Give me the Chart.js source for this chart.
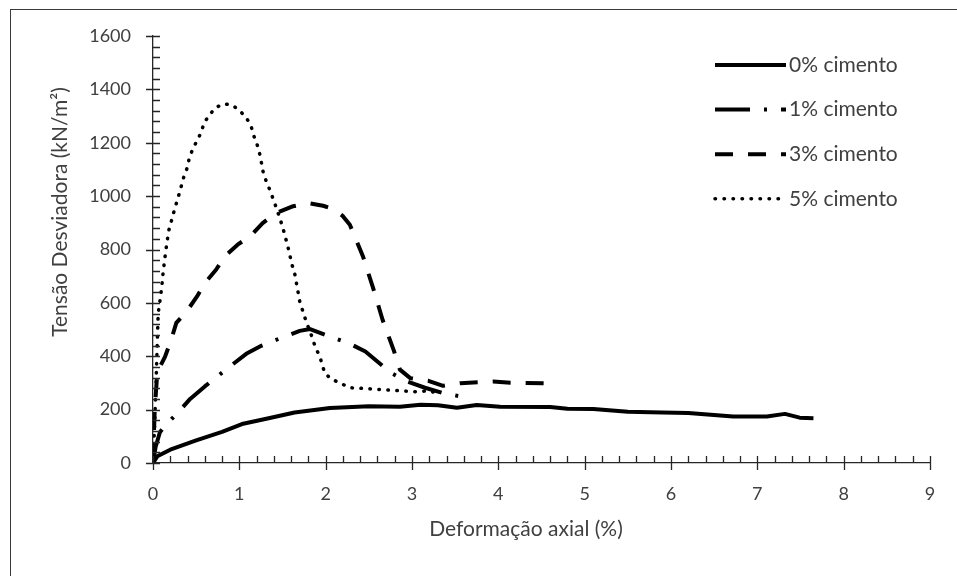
<!DOCTYPE html>
<html>
<head>
<meta charset="utf-8">
<script src="https://cdn.jsdelivr.net/npm/chart.js@4.4.0/dist/chart.umd.min.js"></script>
<style>
  html, body { margin: 0; padding: 0; background: #fff; }
</style>
</head>
<body>
<canvas id="chart" width="957" height="576"></canvas>
<script>
// Values
const seriesLabels = ['0% cimento', '1% cimento', '3% cimento', '5% cimento'];

const strain0 = [0, 0.05, 0.2, 0.5, 0.8, 1.03, 1.3, 1.64, 2.05, 2.5, 2.86, 3.1, 3.3, 3.52, 3.75, 4.02, 4.6, 4.8, 5.1, 5.5, 5.9, 6.2, 6.72, 7.11, 7.32, 7.49, 7.65];
const stress0 = [0, 25, 50, 85, 117, 146, 165, 189, 206, 213, 211, 218, 216, 207, 217, 211, 210, 203, 202, 192, 189, 187, 174, 174, 184, 170, 168];

const strain1 = [0, 0.03, 0.08, 0.14, 0.28, 0.43, 0.6, 0.9, 1.08, 1.26, 1.47, 1.7, 1.82, 2.05, 2.26, 2.46, 2.76, 2.95, 3.15, 3.36, 3.67];
const stress1 = [0, 60, 115, 140, 186, 240, 287, 364, 409, 440, 467, 495, 502, 474, 450, 418, 337, 305, 282, 262, 243];

const strain3 = [0, 0.02, 0.05, 0.14, 0.21, 0.27, 0.39, 0.51, 0.6, 0.73, 0.83, 0.98, 1.13, 1.27, 1.42, 1.61, 1.8, 1.97, 2.1, 2.2, 2.28, 2.43, 2.55, 2.66, 2.79, 2.86, 2.98, 3.19, 3.36, 3.56, 3.94, 4.14, 4.54];
const stress3 = [0, 200, 340, 399, 461, 525, 568, 624, 674, 724, 774, 818, 851, 899, 936, 961, 974, 964, 950, 925, 893, 776, 655, 536, 421, 350, 318, 308, 289, 299, 305, 301, 299];

const strain5 = [0, 0.02, 0.04, 0.06, 0.1, 0.12, 0.15, 0.18, 0.21, 0.24, 0.27, 0.3, 0.33, 0.36, 0.4, 0.42, 0.46, 0.51, 0.56, 0.59, 0.65, 0.73, 0.83, 0.93, 1.02, 1.09, 1.14, 1.17, 1.21, 1.24, 1.28, 1.32, 1.36, 1.43, 1.5, 1.56, 1.61, 1.64, 1.7, 1.77, 1.84, 1.88, 1.93, 1.99, 2.07, 2.19, 2.28, 2.4, 2.61, 2.84, 3.05, 3.17, 3.32];
const stress5 = [0, 150, 350, 560, 655, 724, 799, 868, 903, 939, 972, 1005, 1040, 1076, 1109, 1143, 1176, 1208, 1240, 1273, 1303, 1333, 1346, 1339, 1315, 1289, 1258, 1224, 1189, 1153, 1083, 1049, 1018, 955, 886, 814, 743, 712, 605, 534, 474, 434, 401, 336, 314, 296, 282, 280, 276, 271, 267, 270, 262];

const xTickStep = 1, xMinorStep = 0.2, xMax = 9;
const yTickStep = 200, yMinorStep = 40, yMax = 1600;

const xTitle = 'Deformação axial (%)';
const yTitle = 'Tensão Desviadora (kN/m²)';

const textColor = '#404040';
const axisColor = '#262626';
const fontFamily = 'Lato, "Open Sans", sans-serif';

function toPoints(xs, ys) {
  return xs.map((v, i) => ({ x: v, y: ys[i] }));
}

const lineStyles = [
  { dash: [], cap: 'butt' },
  { dash: [35, 14, 3, 14], cap: 'butt' },
  { dash: [18, 15], cap: 'butt' },
  { dash: [0.5, 8.5], cap: 'round' }
];

const seriesData = [
  toPoints(strain0, stress0),
  toPoints(strain1, stress1),
  toPoints(strain3, stress3),
  toPoints(strain5, stress5)
];

const datasets = seriesData.map((pts, i) => ({
  label: seriesLabels[i],
  data: pts,
  showLine: true,
  borderColor: '#000',
  borderWidth: i === 3 ? 3.5 : 4,
  borderDash: lineStyles[i].dash,
  borderCapStyle: lineStyles[i].cap,
  borderJoinStyle: 'round',
  pointRadius: 0,
  tension: 0
}));

// crossing major ticks and inside minor ticks, like the original
const tickMarks = {
  id: 'tickMarks',
  afterDraw(chart) {
    const { ctx, scales: { x, y } } = chart;
    ctx.save();
    ctx.strokeStyle = axisColor;
    ctx.lineWidth = 1.3;
    ctx.beginPath();
    const nx = Math.round(xMax / xMinorStep);
    for (let i = 0; i <= nx; i++) {
      const v = i * xMinorStep;
      const px = Math.round(x.getPixelForValue(v)) + 0.5;
      const major = i % Math.round(xTickStep / xMinorStep) === 0;
      ctx.moveTo(px, y.bottom - 7);
      ctx.lineTo(px, major ? y.bottom + 7 : y.bottom);
    }
    const ny = Math.round(yMax / yMinorStep);
    for (let i = 0; i <= ny; i++) {
      const v = i * yMinorStep;
      const py = Math.round(y.getPixelForValue(v)) + 0.5;
      const major = i % Math.round(yTickStep / yMinorStep) === 0;
      ctx.moveTo(major ? x.left - 7 : x.left, py);
      ctx.lineTo(x.left + 7, py);
    }
    ctx.stroke();
    ctx.restore();
  }
};

// axis titles, legend and outer frame
const decorations = {
  id: 'decorations',
  afterDraw(chart) {
    const { ctx } = chart;
    ctx.save();
    // frame
    ctx.strokeStyle = '#3a3a3a';
    ctx.lineWidth = 1;
    ctx.strokeRect(10.5, 9.5, 1000, 1000);

    ctx.fillStyle = textColor;
    ctx.font = '21px ' + fontFamily;
    ctx.textAlign = 'center';
    ctx.textBaseline = 'middle';
    ctx.fillText(xTitle, 526, 529);

    ctx.save();
    ctx.translate(60, 212);
    ctx.rotate(-Math.PI / 2);
    ctx.fillText(yTitle, 0, 0);
    ctx.restore();

    // legend
    ctx.font = '21px ' + fontFamily;
    ctx.textAlign = 'left';
    chart.data.datasets.forEach((ds, i) => {
      const ly = 65 + i * 44.6;
      ctx.save();
      ctx.strokeStyle = ds.borderColor;
      ctx.lineWidth = ds.borderWidth;
      ctx.setLineDash(ds.borderDash);
      ctx.lineCap = ds.borderCapStyle;
      ctx.beginPath();
      ctx.moveTo(715, ly);
      ctx.lineTo(786, ly);
      ctx.stroke();
      ctx.restore();
      ctx.fillText(ds.label, 789, ly);
    });
    ctx.restore();
  }
};

new Chart(document.getElementById('chart'), {
  type: 'scatter',
  data: { datasets: datasets },
  options: {
    responsive: false,
    animation: false,
    layout: { padding: { top: 36, right: 27, left: 0, bottom: 0 } },
    plugins: {
      legend: { display: false },
      tooltip: { enabled: false }
    },
    scales: {
      x: {
        type: 'linear',
        min: 0,
        max: xMax,
        afterFit: (s) => { s.height = 113; },
        grid: { display: false, drawTicks: false },
        border: { display: true, color: axisColor, width: 1.3 },
        ticks: {
          stepSize: xTickStep,
          color: textColor,
          padding: 20,
          font: { family: fontFamily, size: 18 },
          callback: (v) => String(v)
        }
      },
      y: {
        type: 'linear',
        min: 0,
        max: yMax,
        afterFit: (s) => { s.width = 153; },
        grid: { display: false, drawTicks: false },
        border: { display: true, color: axisColor, width: 1.3 },
        ticks: {
          stepSize: yTickStep,
          color: textColor,
          padding: 22,
          font: { family: fontFamily, size: 18 },
          callback: (v) => String(v)
        }
      }
    }
  },
  plugins: [tickMarks, decorations]
});
</script>
</body>
</html>
